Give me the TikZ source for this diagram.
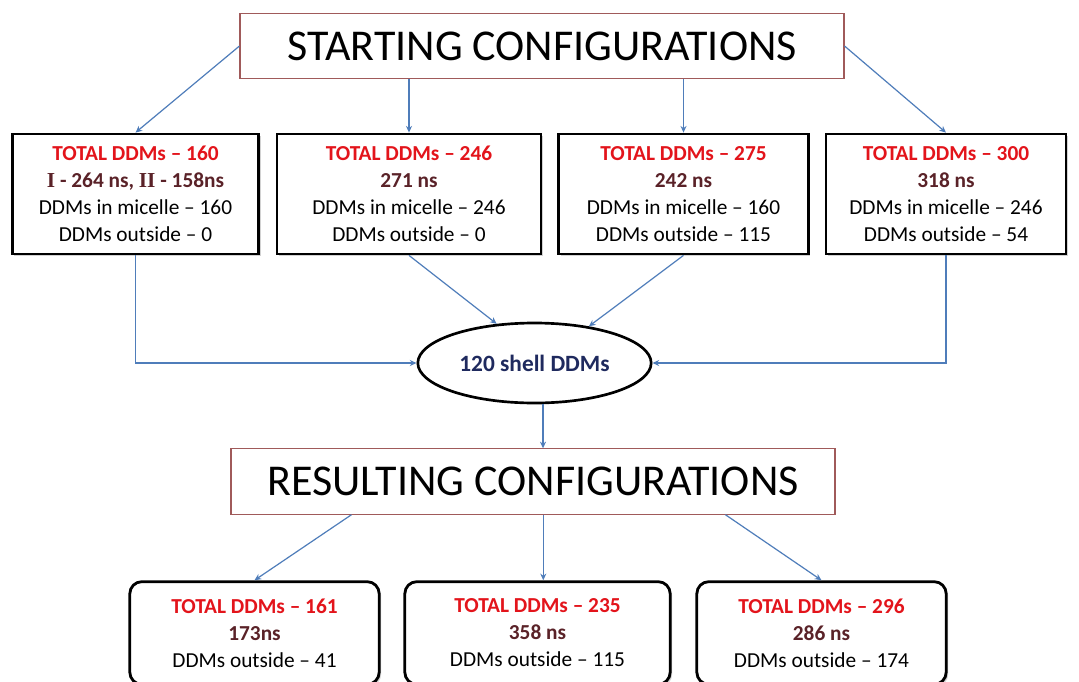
\documentclass[tikz,border=0pt]{standalone}
\usepackage{fontspec}
\setmainfont{Carlito}
\newfontfamily\serifnum{Liberation Serif}
\usetikzlibrary{shapes.geometric,shadows,calc,arrows.meta}
\definecolor{tred}{HTML}{E3141B}
\definecolor{tmaroon}{HTML}{5A2228}
\definecolor{tnavy}{HTML}{1F2A5E}
\definecolor{tblue}{HTML}{4F7DBA}
\definecolor{tborder}{HTML}{A05A5A}
\tikzset{
  titlebox/.style={draw=tborder, line width=0.8pt, fill=white, inner sep=0pt,
    minimum width=453pt, minimum height=49pt, font=\fontsize{33}{37}\selectfont},
  infobox/.style={draw=black, line width=2.1pt, fill=white, inner sep=0pt, align=center,
    minimum height=90pt, font=\fontsize{16}{20.25}\selectfont,
    drop shadow={shadow xshift=1.5pt, shadow yshift=-1.5pt, opacity=0.35}},
  resbox/.style={infobox, rounded corners=9pt, minimum height=77pt},
  shellnode/.style={draw=black, line width=2pt, ellipse, fill=white, inner sep=0pt,
    minimum width=175pt, minimum height=60pt, font=\fontsize{17.5}{21}\selectfont\bfseries, text=tnavy},
  arr/.style={draw=tblue, line width=0.9pt, -{Stealth[length=5pt,width=4.5pt]}},
}
\newcommand{\tl}[1]{\textcolor{tred}{\bfseries #1}}
\newcommand{\nsl}[1]{\textcolor{tmaroon}{\bfseries #1}}
\begin{document}
\begin{tikzpicture}[x=0.75pt,y=-0.75pt]
\clip (0,0) rectangle (1079,682);
\fill[white] (0,0) rectangle (1079,682);
% titles
\node[titlebox] (T) at (542,46) {STARTING CONFIGURATIONS};
\node[titlebox] (R) at (533,481.5) {RESULTING CONFIGURATIONS};
% starting boxes
\node[infobox, minimum width=185pt] (B1) at (135.5,194)
  {\tl{TOTAL DDMs -- 160}\\ \nsl{{\serifnum I} - 264 ns, {\serifnum II} - 158ns}\\ DDMs in micelle -- 160\\ DDMs outside -- 0};
\node[infobox, minimum width=198pt] (B2) at (409,194)
  {\tl{TOTAL DDMs -- 246}\\ \nsl{271 ns}\\ DDMs in micelle -- 246\\ DDMs outside -- 0};
\node[infobox, minimum width=187pt] (B3) at (683.5,194)
  {\tl{TOTAL DDMs -- 275}\\ \nsl{242 ns}\\ DDMs in micelle -- 160\\ DDMs outside -- 115};
\node[infobox, minimum width=180pt] (B4) at (946,194)
  {\tl{TOTAL DDMs -- 300}\\ \nsl{318 ns}\\ DDMs in micelle -- 246\\ DDMs outside -- 54};
% shell
\node[shellnode] (E) at (534.5,363) {120 shell DDMs};
% result boxes
\node[resbox, minimum width=187pt] (RA) at (254.5,633)
  {\tl{TOTAL DDMs -- 161}\\ \nsl{173ns}\\ DDMs outside -- 41};
\node[resbox, minimum width=199pt] (RB) at (537.5,633)
  {\tl{TOTAL DDMs -- 235}\\ \nsl{358 ns}\\ DDMs outside -- 115};
\node[resbox, minimum width=187pt] (RC) at (821.5,633)
  {\tl{TOTAL DDMs -- 296}\\ \nsl{286 ns}\\ DDMs outside -- 174};
% connectors top
\draw[arr] (T.west) -- (B1.north);
\draw[arr] (B2.north |- T.south) -- (B2.north);
\draw[arr] (B3.north |- T.south) -- (B3.north);
\draw[arr] (T.east) -- (B4.north);
% into shell
\draw[arr] (B1.south) |- (E.west);
\draw[arr] (B2.south) -- (E.134);
\draw[arr] (B3.south) -- (E.34);
\draw[arr] (B4.south) |- (E.east);
% shell to result title
\coordinate (S) at ($(E.south)+(8.5,0)$);
\draw[arr] (S) -- (S |- R.north);
% result connectors
\coordinate (RL) at ($(R.south west)!0.2!(R.south east)$);
\coordinate (RM) at ($(R.south west)!0.517!(R.south east)$);
\coordinate (RR) at ($(R.south west)!0.818!(R.south east)$);
\draw[arr] (RL) -- (RA.north);
\draw[arr] (RM) -- (RM |- RB.north);
\draw[arr] (RR) -- (RC.north);
\end{tikzpicture}
\end{document}
